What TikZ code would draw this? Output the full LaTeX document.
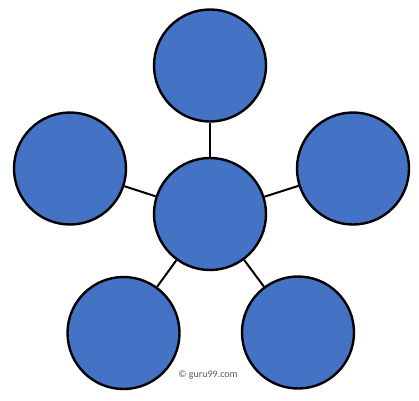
\documentclass[tikz,border=0pt]{standalone}
\usepackage{fontspec}
\setmainfont{Carlito}
\definecolor{ballblue}{HTML}{4472C4}
\definecolor{markgray}{HTML}{595959}
\tikzset{
  ball/.style={circle,draw=black,line width=2.4pt,fill=ballblue,minimum size=112pt,inner sep=0pt},
  spoke/.style={line width=2pt}
}
\begin{document}
\begin{tikzpicture}[x=1pt,y=-1pt]
\useasboundingbox (0,0) rectangle (419,400);
\node[ball] (hub) at (210,214) {};
\node[ball] (top) at (210,65.5) {};
\node[ball] (left) at (70,168.5) {};
\node[ball] (right) at (353,168.5) {};
\node[ball] (botleft) at (123.5,333) {};
\node[ball] (botright) at (298,332.5) {};
\draw[spoke] (hub) -- (top);
\draw[spoke] (hub) -- (left);
\draw[spoke] (hub) -- (right);
\draw[spoke] (hub) -- (botleft);
\draw[spoke] (hub) -- (botright);
\node[text=markgray,font=\fontsize{10}{12}\selectfont] (mark) at (208,375) {© guru99.com};
\end{tikzpicture}
\end{document}
